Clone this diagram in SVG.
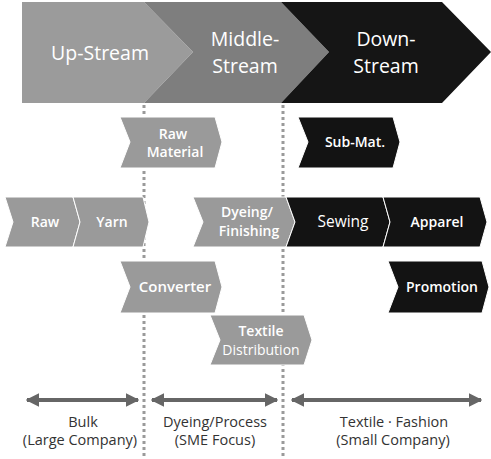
<svg xmlns="http://www.w3.org/2000/svg" width="491" height="459" viewBox="0 0 491 459">
<style>
text{font-family:"Open Sans","Noto Sans","Liberation Sans",sans-serif;text-anchor:middle}
.big{fill:#fff;font-size:19.5px}
.lb{fill:#fff;font-size:14px;font-weight:600}
.ln{fill:#fff;font-size:14px;font-weight:400}
.bt{fill:#333;font-size:14.5px}
.g{fill:#9a9a9a;stroke:#fff;stroke-width:1}
.k{fill:#131313;stroke:#fff;stroke-width:1}
.dot{stroke:#9a9a9a;stroke-width:3;stroke-dasharray:3 3;fill:none}
.arr{stroke:#666;stroke-width:4;fill:none;marker-start:url(#ah);marker-end:url(#ah)}
</style>
<defs>
<marker id="ah" viewBox="0 0 10 10" refX="9" refY="5" markerWidth="3.4" markerHeight="3.4" orient="auto-start-reverse" markerUnits="strokeWidth">
<path d="M0,0 L10,5 L0,10 z" fill="#666"/>
</marker>
</defs>
<g id="connectors">
<line class="dot" x1="144" y1="105" x2="144" y2="459"/>
<line class="dot" x1="283" y1="105" x2="283" y2="459"/>
<line class="arr" x1="27" y1="400" x2="138" y2="400"/>
<line class="arr" x1="152" y1="400" x2="277" y2="400"/>
<line class="arr" x1="292" y1="400" x2="481" y2="400"/>
</g>
<g id="up-stream">
<polygon points="22,2 144,2 193,52 144,103 22,103" fill="#9b9b9b"/>
<text class="big" x="100" y="60">Up-Stream</text>
</g>
<g id="middle-stream">
<polygon points="144,2 281,2 329,52 281,103 144,103 193,52" fill="#7e7e7e"/>
<text class="big" x="245" y="46">Middle-</text>
<text class="big" x="245" y="72.5">Stream</text>
</g>
<g id="down-stream">
<polygon points="281,2 442,2 491,52 442,103 281,103 329,52" fill="#151515"/>
<text class="big" x="386" y="46">Down-</text>
<text class="big" x="386" y="72.5">Stream</text>
</g>
<g id="raw-material">
<polygon class="g" points="120,117 215,117 222,142 215,168 120,168 130,142"/>
<text class="lb" x="173" y="139">Raw</text>
<text class="lb" x="175" y="157">Material</text>
</g>
<g id="sub-mat">
<polygon class="k" points="298,117 393,117 400,142 393,168 298,168 308,142"/>
<text class="lb" x="355" y="147">Sub-Mat.</text>
</g>
<g id="raw">
<polygon class="g" points="5,197 73,197 80,222 73,247 5,247 13,222"/>
<text class="lb" x="45" y="227">Raw</text>
</g>
<g id="yarn">
<polygon class="g" points="73,197 143,197 149,222 143,247 73,247 80,222"/>
<text class="lb" x="112" y="227">Yarn</text>
</g>
<g id="dyeing-finishing">
<polygon class="g" points="193,197 286,197 295,222 286,247 193,247 203,222"/>
<text class="lb" x="247" y="217">Dyeing/</text>
<text class="lb" x="249" y="236">Finishing</text>
</g>
<g id="sewing">
<polygon class="k" points="286,197 383,197 390,222 383,247 286,247 295,222"/>
<text class="ln" x="343" y="227" style="font-size:15.5px">Sewing</text>
</g>
<g id="apparel">
<polygon class="k" points="383,197 480,197 487,222 480,247 383,247 390,222"/>
<text class="lb" x="437" y="227">Apparel</text>
</g>
<g id="converter">
<polygon class="g" points="120,261 215,261 222,287 215,313 120,313 130,287"/>
<text class="lb" x="175" y="292" style="font-size:15px">Converter</text>
</g>
<g id="promotion">
<polygon class="k" points="388,261 482,261 489,287 482,313 388,313 398,287"/>
<text class="lb" x="442" y="292">Promotion</text>
</g>
<g id="textile-distribution">
<polygon class="g" points="210,315 304,315 312,340 304,365 210,365 220,340"/>
<text class="lb" x="261" y="336">Textile</text>
<text class="ln" x="261" y="355">Distribution</text>
</g>
<g id="labels">
<text class="bt" x="83" y="427">Bulk</text>
<text class="bt" x="80" y="445">(Large Company)</text>
<text class="bt" x="215" y="427">Dyeing/Process</text>
<text class="bt" x="215" y="445">(SME Focus)</text>
<text class="bt" x="394" y="427">Textile · Fashion</text>
<text class="bt" x="393" y="445">(Small Company)</text>
</g>
</svg>
